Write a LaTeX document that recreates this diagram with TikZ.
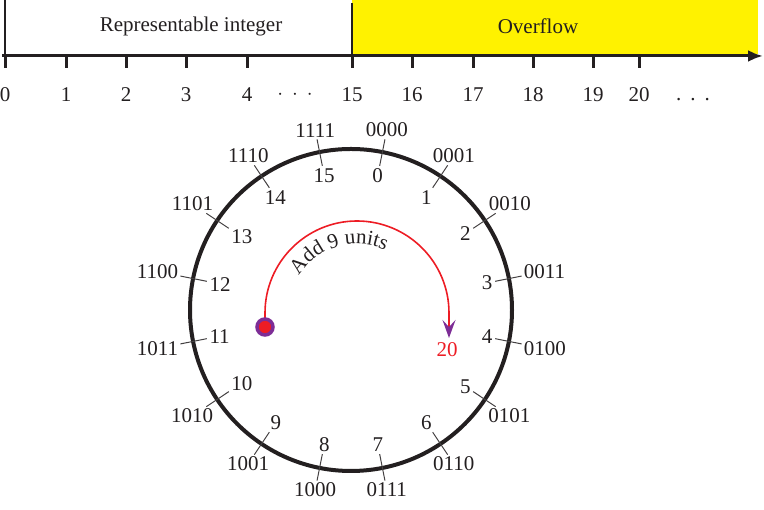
\documentclass[tikz,border=0pt]{standalone}
\usepackage{fontspec}
\setmainfont{Liberation Serif}
\usetikzlibrary{arrows.meta,decorations.text}
\definecolor{ovyellow}{RGB}{255,242,0}
\definecolor{arcred}{RGB}{237,28,36}
\definecolor{dotpurple}{RGB}{125,45,150}
\definecolor{ink}{RGB}{35,31,32}
\begin{document}
\begin{tikzpicture}[x=1pt,y=1pt,
  font=\fontsize{21}{25}\selectfont,
  axisline/.style={line width=3pt, ink},
  axistick/.style={line width=3pt, ink},
  sideline/.style={line width=1.8pt, ink},
  wheel/.style={line width=4pt, ink},
  wheeltick/.style={line width=1pt, ink!85},
  numlabel/.style={inner sep=0pt, text=ink},
  binlabel/.style={inner sep=2pt, text=ink},
  declabel/.style={inner sep=1.5pt, text=ink},
  addarc/.style={line width=1.6pt, arcred},
]
\useasboundingbox (0,0) rectangle (764,510);
% top bar
\fill[ovyellow] (352,456) rectangle (758,510);
\node[text=ink] (rep) at (191,484) {Representable integer};
\node[text=ink] (ovf) at (538,484) {Overflow};
\coordinate (l0) at (5,454);
\coordinate (l1) at (5,510);
\coordinate (m0) at (352,454);
\coordinate (m1) at (352,507);
\draw[sideline] (l0) -- (l1);
\draw[sideline] (m0) -- (m1);
\coordinate (a0) at (2,454);
\coordinate (a1) at (763,454);
\draw[axisline, -{Latex[length=15pt,width=12pt]}] (a0) -- (a1);
\foreach \x/\l in {5/0,66/1,126/2,186/3,247/4,352/15,412/16,473/17,533/18,593/19,639/20}{
  \coordinate (t\l a) at (\x,455);
  \coordinate (t\l b) at (\x,442);
  \draw[axistick] (t\l a) -- (t\l b);
  \node[numlabel] (n\l) at (\x,415) {\l};
}
\node[numlabel] (dots1) at (295,415) {$\cdot$\hspace{9pt}$\cdot$\hspace{9pt}$\cdot$};
\node[numlabel, anchor=base] (dots2) at (693,409) {.\hspace{9pt}.\hspace{9pt}.};
% wheel
\coordinate (c) at (351,200);
\draw[wheel] (c) circle (161);
\foreach \k/\b in {0/0000,1/0001,2/0010,3/0011,4/0100,5/0101,6/0110,7/0111,8/1000,9/1001,10/1010,11/1011,12/1100,13/1101,14/1110,15/1111}{
  \pgfmathsetmacro\a{mod(78.75-22.5*\k+720,360)}
  \pgfmathsetmacro\ao{mod(\a+180,360)}
  \coordinate (wi\k) at ([shift={(\a:147)}]c);
  \coordinate (wo\k) at ([shift={(\a:174)}]c);
  \draw[wheeltick] (wi\k) -- (wo\k);
  \node[binlabel, anchor=\ao] (bl\k) at ([shift={(\a:174)}]c) {\b};
  \node[declabel, anchor=\a] (dl\k) at ([shift={(\a:146)}]c) {\k};
}
% add arc
\coordinate (s) at (265,183);
\coordinate (ac) at (357,197);
\coordinate (e) at (449,172);
\draw[addarc, -{Stealth[length=18pt,width=13pt,inset=7pt,color=dotpurple]}]
  (s) -- (265,197) arc[start angle=180, end angle=0, radius=92] -- (e);
\path[decorate, decoration={text along path,
   text={|\fontsize{21}{25}\selectfont|Add 9 units}, text align=center, text color=ink}]
  ([shift={(150:69)}]ac) arc[start angle=150, end angle=63, radius=69];
\draw[line width=3.5pt, dotpurple, fill=arcred] (s) circle (8);
\node[text=arcred, inner sep=0pt] (twenty) at (447,160) {20};
\end{tikzpicture}
\end{document}
